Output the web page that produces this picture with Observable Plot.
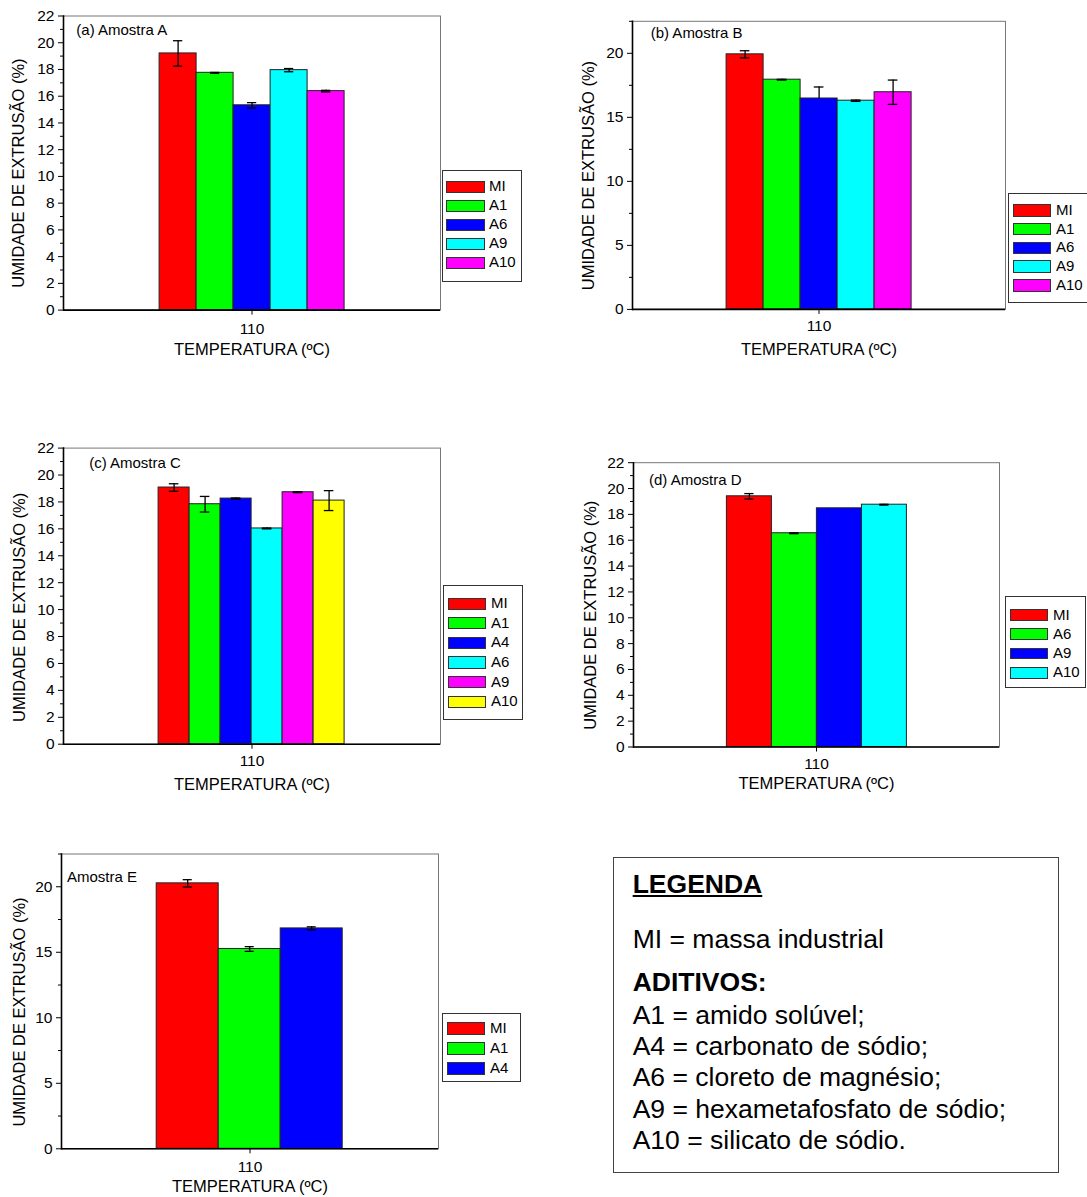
<!DOCTYPE html>
<html>
<head>
<meta charset="utf-8">
<script src="https://cdn.jsdelivr.net/npm/d3@7"></script>
<script src="https://cdn.jsdelivr.net/npm/@observablehq/plot@0.6"></script>
<style>
  body { margin: 0; background: #fff; }
  #page { position: relative; width: 1087px; height: 1197px; overflow: hidden;
          font-family: "Liberation Sans", Arial, sans-serif; color: #000; background: #fff; }
  #page svg { position: absolute; overflow: visible; max-width: none; }
  .legend { position: absolute; border: 1px solid #333; background: #fff; box-sizing: border-box; }
  .sw { position: absolute; border: 1px solid #333; box-sizing: border-box; }
  .lt { position: absolute; font-size: 15px; line-height: 15px; white-space: nowrap; }
  .key { position: absolute; border: 1px solid #444; box-sizing: border-box; background: #fff; }
  .key div { position: absolute; left: 19px; font-size: 26.5px; line-height: 26.5px; white-space: nowrap; }
</style>
</head>
<body>
<div id="page"></div>
<script>
// Shared labels and colours
const temperature = "110";
const palette = ["#ff0000", "#00ff00", "#0000ff", "#00ffff", "#ff00ff", "#ffff00"];
const yTitle = "UMIDADE DE EXTRUSÃO (%)";
const xTitle = "TEMPERATURA (ºC)";
const ticksEven = [0, 2, 4, 6, 8, 10, 12, 14, 16, 18, 20, 22];
const ticksOdd = [1, 3, 5, 7, 9, 11, 13, 15, 17, 19, 21];
const ticksFive = [0, 5, 10, 15, 20];
const ticksHalf = [2.5, 7.5, 12.5, 17.5, 22.5];

// (a) Amostra A
const seriesA = ["MI", "A1", "A6", "A9", "A10"];
const valuesA = [19.2, 17.75, 15.32, 17.95, 16.38];
const errUpA = [0.95, 0.03, 0.2, 0.12, 0.06];
const errDownA = [0.95, 0.03, 0.2, 0.12, 0.06];

// (b) Amostra B
const seriesB = ["MI", "A1", "A6", "A9", "A10"];
const valuesB = [19.92, 17.94, 16.47, 16.3, 16.96];
const errUpB = [0.28, 0.03, 0.9, 0.05, 0.95];
const errDownB = [0.28, 0.03, 0, 0.05, 0.95];

// (c) Amostra C
const seriesC = ["MI", "A1", "A4", "A6", "A9", "A10"];
const valuesC = [19.07, 17.83, 18.25, 16.03, 18.72, 18.1];
const errUpC = [0.28, 0.58, 0.04, 0.03, 0.03, 0.74];
const errDownC = [0.28, 0.58, 0.04, 0.03, 0.03, 0.74];

// (d) Amostra D
const seriesD = ["MI", "A6", "A9", "A10"];
const valuesD = [19.4, 16.54, 18.47, 18.75];
const errUpD = [0.21, 0.03, 0, 0.03];
const errDownD = [0.21, 0.03, 0, 0.03];

// Amostra E
const seriesE = ["MI", "A1", "A4"];
const valuesE = [20.26, 15.25, 16.82];
const errUpE = [0.28, 0.18, 0.12];
const errDownE = [0.28, 0.18, 0.12];

// Key box text
const keyTitle = "LEGENDA";
const keyBase = "MI = massa industrial";
const keyHeading = "ADITIVOS:";
const keyAdditives = [
  "A1 = amido solúvel;",
  "A4 = carbonato de sódio;",
  "A6 = cloreto de magnésio;",
  "A9 = hexametafosfato de sódio;",
  "A10 = silicato de sódio."
];

const page = document.getElementById("page");

function panel(p) {
  const rows = p.series.map((s, i) => ({
    serie: s, temp: temperature, value: p.values[i],
    lo: p.values[i] - p.errDown[i], hi: p.values[i] + p.errUp[i],
    up: p.errUp[i], down: p.errDown[i], color: palette[i]
  }));
  const n = rows.length;
  const frameW = p.width - p.m[0] - p.m[2];
  const band = frameW / (2 * n);
  const capInset = Math.max(0, (band - 10) / 2);

  const chart = Plot.plot({
    width: p.width, height: p.height,
    marginLeft: p.m[0], marginTop: p.m[1], marginRight: p.m[2], marginBottom: p.m[3],
    style: { fontFamily: "Liberation Sans, Arial, sans-serif", fontSize: "15.5px", color: "#000", background: "transparent", overflow: "visible" },
    fx: { domain: [temperature], padding: 0, label: null },
    x: { domain: p.series, paddingInner: 0, paddingOuter: n / 2, axis: null },
    y: { domain: p.yDomain },
    color: { type: "identity" },
    marks: [
      Plot.frame({ stroke: "#777", strokeWidth: 1 }),
      Plot.barY(rows, { fx: "temp", x: "serie", y: "value", fill: "color", stroke: "#222", strokeWidth: 1 }),
      Plot.ruleX(rows.filter(d => d.up + d.down > 0), { fx: "temp", x: "serie", y1: "lo", y2: "hi", stroke: "#000", strokeWidth: 1.3 }),
      Plot.tickY(rows.filter(d => d.up > 0), { fx: "temp", x: "serie", y: "hi", insetLeft: capInset, insetRight: capInset, stroke: "#000", strokeWidth: 1.3 }),
      Plot.tickY(rows.filter(d => d.down > 0), { fx: "temp", x: "serie", y: "lo", insetLeft: capInset, insetRight: capInset, stroke: "#000", strokeWidth: 1.3 }),
      Plot.axisY(p.major, { tickSize: 5, tickPadding: 4, label: null, fontSize: 15.5 }),
      Plot.axisY(p.minor, { tickSize: 3, tickFormat: () => "", label: null }),
      Plot.axisFx({ anchor: "bottom", tickSize: 5, tickPadding: p.xTickPad, label: null, fontSize: 15.5 }),
      Plot.ruleY([0], { stroke: "#000", strokeWidth: 1.6 }),
      Plot.frame({ anchor: "left", stroke: "#000", strokeWidth: 1.6 }),
      Plot.text([p.tag], { text: d => d, frameAnchor: "top-left", textAnchor: "start", lineAnchor: "top", dx: p.tagDx, dy: p.tagDy, fontSize: 15 }),
      Plot.text([yTitle], { text: d => d, frameAnchor: "left", textAnchor: "middle", lineAnchor: "middle", rotate: -90, dx: p.yTitleDx, dy: p.yTitleDy, fontSize: 16.5 }),
      Plot.text([xTitle], { text: d => d, frameAnchor: "bottom", textAnchor: "middle", dy: p.xTitleDy, fontSize: 16.5 })
    ]
  });
  chart.style.left = p.ox + "px";
  chart.style.top = p.oy + "px";
  page.appendChild(chart);

  // Series key beside the plot
  const L = p.legend;
  const box = document.createElement("div");
  box.className = "legend";
  Object.assign(box.style, { left: L.x + "px", top: L.y + "px", width: L.w + "px", height: L.h + "px" });
  rows.forEach((d, i) => {
    const top = L.first + i * L.pitch;
    const sw = document.createElement("div");
    sw.className = "sw";
    Object.assign(sw.style, { left: L.swX + "px", top: top + "px", width: L.swW + "px", height: L.swH + "px", background: d.color });
    const t = document.createElement("div");
    t.className = "lt";
    t.textContent = d.serie;
    Object.assign(t.style, { left: L.textX + "px", top: (top + L.swH / 2 - 7.5 - 1) + "px" });
    box.appendChild(sw);
    box.appendChild(t);
  });
  page.appendChild(box);
}

panel({
  series: seriesA, values: valuesA, errUp: errUpA, errDown: errDownA,
  ox: 0, oy: 0, width: 450, height: 370, m: [62.9, 15.5, 9.9, 60.4],
  yDomain: [0, 22], major: ticksEven, minor: ticksOdd,
  tag: "(a) Amostra A", tagDx: 12.8, tagDy: 8.5, xTickPad: 8.2,
  yTitleDx: -44.5, yTitleDy: 10, xTitleDy: 45,
  legend: { x: 442, y: 170, w: 80, h: 112, swX: 3, swW: 39, swH: 12, first: 9.5, pitch: 19, textX: 46 }
});

panel({
  series: seriesB, values: valuesB, errUp: errUpB, errDown: errDownB,
  ox: 560, oy: 0, width: 452, height: 370, m: [71.9, 20.8, 6.7, 61.1],
  yDomain: [0, 22.5], major: ticksFive, minor: ticksHalf,
  tag: "(b) Amostra B", tagDx: 18.2, tagDy: 6.1, xTickPad: 5.4,
  yTitleDx: -43.3, yTitleDy: 10.2, xTitleDy: 45.2,
  legend: { x: 1008, y: 193, w: 95, h: 110, swX: 3.5, swW: 38, swH: 12.5, first: 10, pitch: 18.8, textX: 47 }
});

panel({
  series: seriesC, values: valuesC, errUp: errUpC, errDown: errDownC,
  ox: 0, oy: 430, width: 450, height: 370, m: [62.9, 17.6, 9.9, 56.3],
  yDomain: [0, 22], major: ticksEven, minor: ticksOdd,
  tag: "(c) Amostra C", tagDx: 25.7, tagDy: 8.8, xTickPad: 5.8,
  yTitleDx: -43.9, yTitleDy: 11.2, xTitleDy: 45.8,
  legend: { x: 442.5, y: 584.5, w: 80, h: 135, swX: 4, swW: 38, swH: 12.4, first: 12, pitch: 19.6, textX: 47.5 }
});

panel({
  series: seriesD, values: valuesD, errUp: errUpD, errDown: errDownD,
  ox: 560, oy: 440, width: 445, height: 360, m: [72.6, 22.2, 6.4, 53.5],
  yDomain: [0, 22], major: ticksEven, minor: ticksOdd,
  tag: "(d) Amostra D", tagDx: 15.5, tagDy: 11.4, xTickPad: 6.1,
  yTitleDx: -43, yTitleDy: 10.4, xTitleDy: 41.9,
  legend: { x: 1005, y: 596, w: 81, h: 92, swX: 4, swW: 38.4, swH: 11.8, first: 12.2, pitch: 19.2, textX: 47 }
});

panel({
  series: seriesE, values: valuesE, errUp: errUpE, errDown: errDownE,
  ox: 0, oy: 840, width: 445, height: 357, m: [60.8, 13.5, 6.6, 48.7],
  yDomain: [0, 22.5], major: ticksFive, minor: ticksHalf,
  tag: "Amostra E", tagDx: 5.4, tagDy: 16.9, xTickPad: 7.1,
  yTitleDx: -42, yTitleDy: 10.6, xTitleDy: 43.6,
  legend: { x: 441.5, y: 1013, w: 79, h: 69, swX: 4, swW: 38.3, swH: 12.7, first: 8, pitch: 20, textX: 47.5 }
});

// Additive key box
const key = document.createElement("div");
key.className = "key";
Object.assign(key.style, { left: "612.7px", top: "857.3px", width: "446.6px", height: "316px" });
function keyLine(text, baseline, bold, underline) {
  const d = document.createElement("div");
  d.textContent = text;
  d.style.top = (baseline - 857.3 - 0.8465 * 26.5) + "px";
  if (bold) d.style.fontWeight = "bold";
  if (underline) d.style.textDecoration = "underline";
  key.appendChild(d);
}
keyLine(keyTitle, 892.7, true, true);
keyLine(keyBase, 947.7, false, false);
keyLine(keyHeading, 990, true, false);
keyAdditives.forEach((t, i) => keyLine(t, 1023.3 + i * 31.3, false, false));
page.appendChild(key);
</script>
</body>
</html>
